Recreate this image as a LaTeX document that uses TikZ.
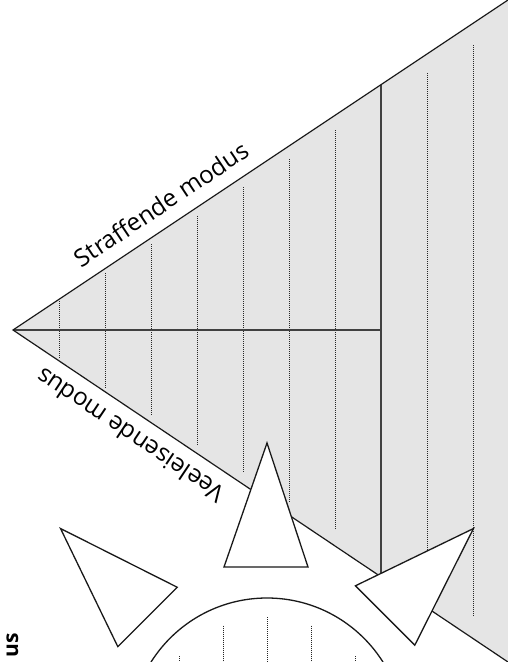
\documentclass[tikz,border=0pt]{standalone}
\usepackage{fontspec}
\setmainfont{Open Sans}
\usetikzlibrary{calc}

\begin{document}
\begin{tikzpicture}[
  x=1pt, y=-1pt,
  font=\fontsize{24.3}{27}\selectfont,
  field/.style={fill=black!10},
  edge/.style={draw=black!90, line width=1.2pt},
  divider/.style={draw=black!75, line width=1.6pt},
  guide/.style={draw=black!85, line width=0.9pt, dash pattern=on 0.9pt off 1.1pt},
  ray/.style={draw=black!90, fill=white, line width=1.3pt, line join=miter},
  modelabel/.style={inner xsep=0pt, inner ysep=13pt}
]
\useasboundingbox (0,0) rectangle (508,662);
\clip (0,0) rectangle (508,662);

% Wedge
\coordinate (apex) at (13,330);
\coordinate (topc) at (508,0);
\coordinate (botc) at (508,662);
\fill[field] (apex) -- (topc) -- (botc) -- cycle;

\foreach \k in {1,...,7,9,10}
  \draw[guide] ({13+46*\k},{330-0.62*46*\k}) -- ({13+46*\k},{330+0.62*46*\k});

\coordinate (vtop) at ($(apex)!0.7434!(topc)$);
\coordinate (vbot) at ($(apex)!0.7434!(botc)$);
\draw[divider] (vtop) -- (vbot);
\draw[divider] (apex) -- (apex -| vtop);
\draw[edge] (topc) -- (apex) -- (botc);

% Labels
\node[modelabel, anchor=south, rotate=33.7] (straf) at ($(apex)!0.325!(topc)$) {Straffende modus};
\node[modelabel, anchor=south, rotate=146.2] (veel) at ($(apex)!0.262!(botc)$) {Veeleisende modus};
\node[font=\fontsize{21}{24}\selectfont\bfseries, rotate=90, anchor=base east, inner sep=0pt] (third) at (18,633) {us};

% Hub with rays
\coordinate (hub) at (267,735);
\foreach \a in {45,0,-45}
  \draw[ray, rotate around={\a:(hub)}] (267,443) -- (224,567) -- (308,567) -- cycle;
\draw[ray] (hub) circle[radius=137];
\foreach \d in {-2,...,2}
  \draw[guide] ({267+44*\d},{735-sqrt(118*118-44*44*\d*\d)}) -- ({267+44*\d},700);

\end{tikzpicture}
\end{document}
